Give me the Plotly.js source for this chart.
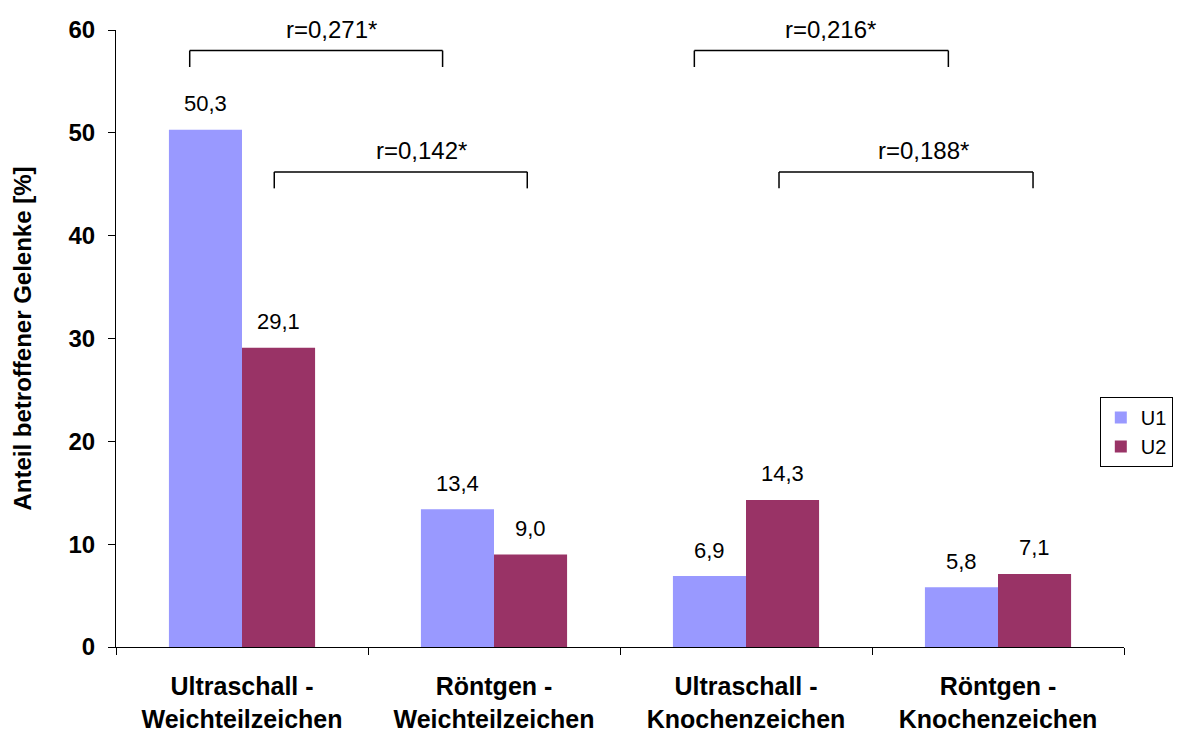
<!DOCTYPE html>
<html>
<head>
<meta charset="utf-8">
<script src="https://cdn.plot.ly/plotly-3.0.1.min.js"></script>
<style>
  html, body { margin: 0; padding: 0; background: #ffffff; }
  #chart { width: 1185px; height: 734px; }
</style>
</head>
<body>
<div id="chart"></div>
<script>
// Kategorien (zweizeilige Achsenbeschriftung)
const categories = [
  'Ultraschall -<br>Weichteilzeichen',
  'Röntgen -<br>Weichteilzeichen',
  'Ultraschall -<br>Knochenzeichen',
  'Röntgen -<br>Knochenzeichen'
];

// Anteil betroffener Gelenke [%] je Untersuchungszeitpunkt
const seriesNames = ['U1', 'U2'];
const valuesU1 = [50.3, 13.4, 6.9, 5.8];
const valuesU2 = [29.1, 9.0, 14.3, 7.1];

// Korrelationen zwischen den Methoden
const corrLabels = ['r=0,271*', 'r=0,142*', 'r=0,216*', 'r=0,188*'];

const colors = ['#9999FF', '#993366'];
const FONT = 'Liberation Sans, Arial, sans-serif';

const traces = [valuesU1, valuesU2].map((vals, k) => ({
  type: 'bar',
  name: seriesNames[k],
  x: categories,
  y: vals,
  marker: { color: colors[k], line: { width: 0 } },
  hoverinfo: 'skip'
}));

// Halbe Balkenbreite in Kategorieeinheiten (2 Balken je Gruppe)
const bargap = 0.42;
const half = (1 - bargap) / 4;

// Wertebeschriftungen über den Balken (Komma als Dezimaltrennzeichen)
const fmt = v => v.toFixed(1).replace('.', ',');
const annotations = [];
[valuesU1, valuesU2].forEach((vals, k) => {
  vals.forEach((v, i) => {
    annotations.push({
      x: i + (k === 0 ? -half : half), y: v,
      xref: 'x', yref: 'y',
      text: fmt(v), showarrow: false,
      yanchor: 'middle', yshift: 26,
      font: { family: FONT, size: 22, color: '#000000' }
    });
  });
});

// Klammern für die Korrelationen: [x links, x rechts, Höhe oben, Höhe unten, Text-x]
const brackets = [
  [-0.2075, 0.796, 58.0, 56.4, 0.354],
  [0.128, 1.132, 46.2, 44.6, 0.713],
  [1.795, 2.803, 58.0, 56.4, 2.334],
  [2.131, 3.139, 46.2, 44.6, 2.706]
];
const shapes = [];
const lineStyle = { color: '#000000', width: 1.5 };
brackets.forEach((b, j) => {
  const [x0, x1, yt, yb, xt] = b;
  shapes.push({ type: 'line', xref: 'x', yref: 'y', x0: x0, x1: x1, y0: yt, y1: yt, line: lineStyle });
  shapes.push({ type: 'line', xref: 'x', yref: 'y', x0: x0, x1: x0, y0: yt, y1: yb, line: lineStyle });
  shapes.push({ type: 'line', xref: 'x', yref: 'y', x0: x1, x1: x1, y0: yt, y1: yb, line: lineStyle });
  annotations.push({
    x: xt, y: yt, xref: 'x', yref: 'y',
    text: corrLabels[j], showarrow: false,
    yanchor: 'bottom', yshift: 6,
    font: { family: FONT, size: 24, color: '#000000' }
  });
});

const layout = {
  width: 1185, height: 734,
  margin: { l: 116, r: 57, t: 30, b: 87 },
  paper_bgcolor: '#ffffff', plot_bgcolor: '#ffffff',
  barmode: 'group', bargap: bargap, bargroupgap: 0,
  separators: ',.',
  showlegend: true,
  legend: {
    x: 0.976, y: 0.405, xanchor: 'left', yanchor: 'top',
    bordercolor: '#000000', borderwidth: 1, bgcolor: '#ffffff',
    font: { family: FONT, size: 20, color: '#000000' },
    tracegroupgap: 0
  },
  xaxis: {
    type: 'category',
    showline: true, linecolor: '#000000', linewidth: 1,
    ticks: 'outside', tickson: 'boundaries', ticklen: 7, tickcolor: '#000000',
    showgrid: false, zeroline: false,
    tickfont: { family: FONT, size: 25, color: '#000000', weight: 'bold' },
    ticklabelstandoff: 17,
    fixedrange: true
  },
  yaxis: {
    range: [0, 60], dtick: 10,
    showline: true, linecolor: '#000000', linewidth: 1,
    ticks: 'outside', ticklen: 7, tickcolor: '#000000',
    showgrid: false, zeroline: false,
    tickfont: { family: FONT, size: 24, color: '#000000', weight: 'bold' },
    ticklabelstandoff: 8,
    title: {
      text: 'Anteil betroffener Gelenke [%]',
      font: { family: FONT, size: 24, color: '#000000', weight: 'bold' },
      standoff: 30
    },
    fixedrange: true
  },
  shapes: shapes,
  annotations: annotations
};

Plotly.newPlot('chart', traces, layout, { displayModeBar: false, staticPlot: true });
</script>
</body>
</html>
